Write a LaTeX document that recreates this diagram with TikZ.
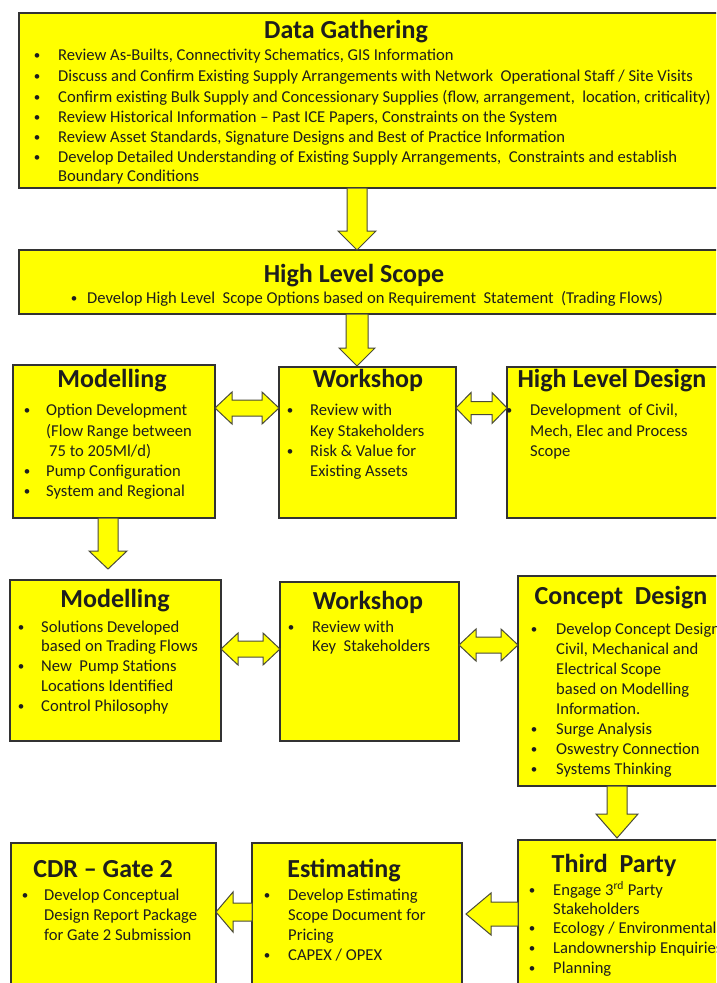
\documentclass[tikz,border=0pt]{standalone}
\usepackage{fontspec}
\setmainfont{Carlito}
\usetikzlibrary{calc}
\definecolor{ylw}{HTML}{FFFF00}
\definecolor{edge}{HTML}{333333}
\definecolor{ink}{HTML}{1E1E1E}
\definecolor{aedge}{HTML}{4A4A3A}
\tikzset{
 box/.style={draw=edge, fill=ylw, line width=1.1pt, rectangle, inner sep=0pt, outer sep=0pt},
 ttl/.style={font=\fontsize{26}{30}\selectfont\bfseries, inner sep=0pt, anchor=mid, text=ink, yshift=-5pt},
 txt/.style={font=\fontsize{16.6}{20}\selectfont, inner sep=0pt, anchor=mid west, text=ink, yshift=-3pt},
 bul/.style={font=\fontsize{13}{16}\selectfont, inner sep=0pt, anchor=center, text=ink, yshift=-2pt},
 blk/.style={draw=aedge, fill=ylw, line width=1pt, line join=miter},
}
\newcommand{\bx}[5]{\node[box, minimum width={#4-#2}, minimum height={#5-#3}] (#1) at ({(#2+#4)/2},{(#3+#5)/2}) {};}
\newcommand{\itm}[5]{\node[bul] (#1b) at (#2,#4) {•}; \node[txt] (#1) at (#3,#4) {#5};}
\newcommand{\lin}[4]{\node[txt] (#1) at (#2,#3) {#4};}
% down block arrow: start, tip, shaft half, head half, head length
\newcommand{\downblock}[5]{\draw[blk] ($(#1)+(-#3,0)$) -- ($(#2)+(-#3,-#5)$) -- ($(#2)+(-#4,-#5)$) -- (#2) -- ($(#2)+(#4,-#5)$) -- ($(#2)+(#3,-#5)$) -- ($(#1)+(#3,0)$) -- cycle;}
% double horizontal block arrow: left tip, right tip, head length, shaft half, head half
\newcommand{\dblock}[5]{\draw[blk] (#1) -- ($(#1)+(#3,-#5)$) -- ($(#1)+(#3,-#4)$) -- ($(#2)+(-#3,-#4)$) -- ($(#2)+(-#3,-#5)$) -- (#2) -- ($(#2)+(-#3,#5)$) -- ($(#2)+(-#3,#4)$) -- ($(#1)+(#3,#4)$) -- ($(#1)+(#3,#5)$) -- cycle;}
% left block arrow: tail, tip, head length, shaft half, head half
\newcommand{\lblock}[5]{\draw[blk] ($(#1)+(0,-#4)$) -- ($(#2)+(#3,-#4)$) -- ($(#2)+(#3,-#5)$) -- (#2) -- ($(#2)+(#3,#5)$) -- ($(#2)+(#3,#4)$) -- ($(#1)+(0,#4)$) -- cycle;}
\begin{document}
\begin{tikzpicture}[x=1pt,y=-1pt]
\useasboundingbox (0,0) rectangle (716,983);
\clip (0,0) rectangle (716,983);
\fill[white] (0,0) rectangle (716,983);
% boxes
\bx{dg}{19}{13}{740}{188}
\bx{hls}{19}{250}{740}{314}
\bx{mo1}{13}{365}{215}{518}
\bx{ws1}{279}{367}{456}{518}
\bx{hld}{507}{367}{740}{518}
\bx{mo2}{10}{580}{221}{741}
\bx{ws2}{280}{582}{459}{741}
\bx{cd}{518}{576}{740}{786}
\bx{cdr}{11}{843}{216}{1000}
\bx{est}{252}{843}{462}{1000}
\bx{tp}{518}{840}{740}{1000}
% connectors
\coordinate (x1) at (357,0);
\downblock{x1 |- dg.south}{x1 |- hls.north}{10}{19}{19}
\coordinate (x2) at (357,0);
\coordinate (t2) at ($(x2 |- ws1.north)+(0,-1)$);
\downblock{x2 |- hls.south}{t2}{11}{18}{18}
\coordinate (x3) at (108,0);
\coordinate (t3) at ($(x3 |- mo2.north)+(0,-11)$);
\downblock{x3 |- mo1.south}{t3}{10}{19}{18}
\coordinate (x4) at (617,0);
\coordinate (t4) at ($(x4 |- tp.north)+(0,-2)$);
\downblock{x4 |- cd.south}{t4}{10}{21}{24}
\coordinate (y2) at (0,408);
\dblock{mo1.east |- y2}{ws1.west |- y2}{17}{8}{16}
\dblock{ws1.east |- y2}{hld.west |- y2}{15}{6.5}{15.5}
\coordinate (y3a) at (0,649);
\dblock{mo2.east |- y3a}{ws2.west |- y3a}{17}{8}{16}
\coordinate (y3b) at (0,645);
\dblock{ws2.east |- y3b}{cd.west |- y3b}{17}{8}{16}
\coordinate (y4a) at (0,912);
\lblock{est.west |- y4a}{cdr.east |- y4a}{17}{9}{20}
\coordinate (y4b) at (0,914);
\coordinate (t4b) at ($(est.east |- y4b)+(4,0)$);
\lblock{tp.west |- y4b}{t4b}{25}{12}{21}
% Data Gathering
\node[ttl] (dgT) at (346,31) {Data Gathering};
\itm{dg1}{37}{58}{55}{Review As-Builts, Connectivity Schematics, GIS Information}
\itm{dg2}{37}{58}{76}{Discuss and Confirm Existing Supply Arrangements with Network \ Operational Staff / Site Visits}
\itm{dg3}{37}{58}{97}{Confirm existing Bulk Supply and Concessionary Supplies (flow, arrangement, \ location, criticality)}
\itm{dg4}{37}{58}{117}{Review Historical Information – Past ICE Papers, Constraints on the System}
\itm{dg5}{37}{58}{137}{Review Asset Standards, Signature Designs and Best of Practice Information}
\itm{dg6}{37}{58}{157}{Develop Detailed Understanding of Existing Supply Arrangements, \ Constraints and establish}
\lin{dg7}{58}{176}{Boundary Conditions}
% High Level Scope
\node[ttl] (hlsT) at (354,275) {High Level Scope};
\itm{hl1}{74}{87}{298}{Develop High Level \ Scope Options based on Requirement \ Statement \ (Trading Flows)}
% Modelling 1
\node[ttl] (mo1T) at (112,380) {Modelling};
\itm{m11}{27}{46}{410}{Option Development}
\lin{m12}{46}{431}{(Flow Range between}
\lin{m13}{46}{451}{\hspace{3pt}75 to 205Ml/d)}
\itm{m14}{27}{46}{471}{Pump Configuration}
\itm{m15}{27}{46}{491}{System and Regional}
% Workshop 1
\node[ttl] (ws1T) at (368,380) {Workshop};
\itm{w11}{290}{310}{410}{Review with}
\lin{w12}{310}{431}{Key Stakeholders}
\itm{w13}{290}{310}{451}{Risk \& Value for}
\lin{w14}{310}{471}{Existing Assets}
% High Level Design
\node[ttl] (hldT) at (612,380) {High Level Design};
\itm{h1}{509}{530}{410}{Development \ of Civil,}
\lin{h2}{530}{431}{Mech, Elec and Process}
\lin{h3}{530}{451}{Scope}
% Modelling 2
\node[ttl] (mo2T) at (115,600) {Modelling};
\itm{m21}{21}{41}{627}{Solutions Developed}
\lin{m22}{41}{646}{based on Trading Flows}
\itm{m23}{21}{41}{666}{New \ Pump Stations}
\lin{m24}{41}{686}{Locations Identified}
\itm{m25}{21}{41}{706}{Control Philosophy}
% Workshop 2
\node[ttl] (ws2T) at (368,602) {Workshop};
\itm{w21}{291}{312}{627}{Review with}
\lin{w22}{312}{646}{Key \ Stakeholders}
% Concept Design
\node[ttl] (cdT) at (621,597) {Concept \ Design};
\itm{c1}{534}{556}{629}{Develop Concept Design}
\lin{c2}{556}{649}{Civil, Mechanical and}
\lin{c3}{556}{669}{Electrical Scope}
\lin{c4}{556}{689}{based on Modelling}
\lin{c5}{556}{709}{Information.}
\itm{c6}{534}{556}{729}{Surge Analysis}
\itm{c7}{534}{556}{749}{Oswestry Connection}
\itm{c8}{534}{556}{769}{Systems Thinking}
% CDR
\node[ttl] (cdrT) at (103,870) {CDR – Gate 2};
\itm{r1}{25}{44}{895}{Develop Conceptual}
\lin{r2}{44}{915}{Design Report Package}
\lin{r3}{44}{935}{for Gate 2 Submission}
% Estimating
\node[ttl] (estT) at (344,870) {Estimating};
\itm{e1}{267}{288}{895}{Develop Estimating}
\lin{e2}{288}{915}{Scope Document for}
\lin{e3}{288}{935}{Pricing}
\itm{e4}{267}{288}{955}{CAPEX / OPEX}
% Third Party
\node[ttl] (tpT) at (614,865) {Third \ Party};
\itm{p1}{532}{553}{890}{Engage 3\textsuperscript{rd} Party}
\lin{p2}{553}{909}{Stakeholders}
\itm{p3}{532}{553}{928}{Ecology / Environmental}
\itm{p4}{532}{553}{948}{Landownership Enquiries}
\itm{p5}{532}{553}{968}{Planning}
\end{tikzpicture}
\end{document}
